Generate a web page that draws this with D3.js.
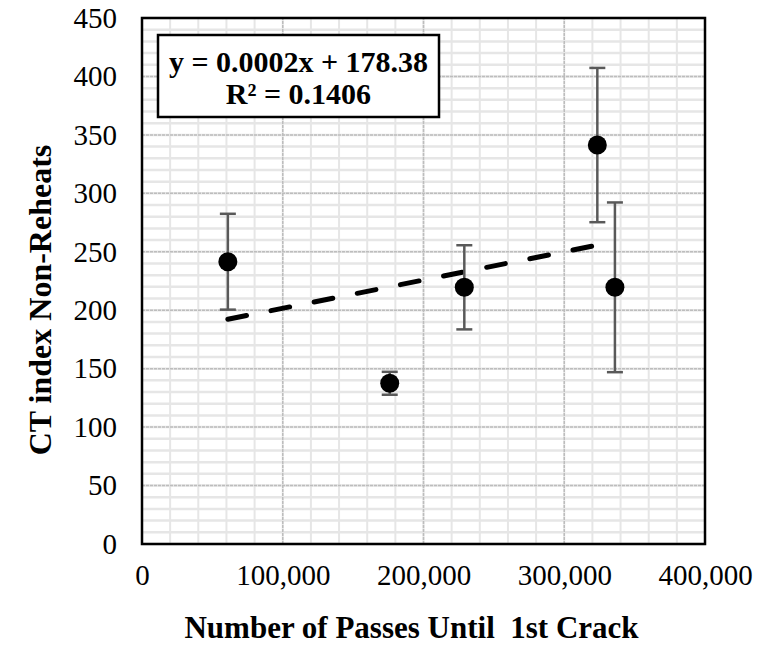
<!DOCTYPE html>
<html>

<head>
  <title>CT index vs passes</title>
  <script src="https://d3js.org/d3.v7.min.js"></script>

  <style type="text/css">
    body {
      margin: 0;
      background: #fff;
    }

    svg {
      font-family: "Liberation Serif", "Times New Roman", serif;
    }

    svg .tick text {
      fill: #000;
    }
  </style>
</head>

<body>
  <div id="chart"></div>

  <script type="text/javascript">
    // data
    var passes = [61000, 176000, 229000, 323500, 336000];
    var ctIndex = [241.5, 137.5, 219.6, 341.3, 219.6];
    var errBar = [41, 9.8, 36, 66, 72.6];

    var xTicks = [0, 100000, 200000, 300000, 400000];
    var yTicks = [0, 50, 100, 150, 200, 250, 300, 350, 400, 450];

    var xTitle = "Number of Passes Until  1st Crack";
    var yTitle = "CT index Non-Reheats";
    var eqLines = ["y = 0.0002x + 178.38", "R\u00B2 = 0.1406"];

    var width = 784, height = 646;
    var margin = { top: 18, right: 79, bottom: 102, left: 142 };

    var svg = d3.select("#chart")
      .append("svg")
      .attr("width", width)
      .attr("height", height);

    var x = d3.scaleLinear()
      .domain([0, 400000])
      .range([margin.left, width - margin.right]);

    var y = d3.scaleLinear()
      .domain([0, 450])
      .range([height - margin.bottom, margin.top]);

    var grid = svg.append("g");

    // minor grid
    grid.selectAll(".vminor")
      .data(d3.range(0, 400001, 20000))
      .enter().append("line")
      .attr("x1", function (d) { return x(d); })
      .attr("x2", function (d) { return x(d); })
      .attr("y1", y(0)).attr("y2", y(450))
      .style("stroke", "#e6e6e6")
      .style("stroke-width", 2);

    grid.selectAll(".hminor")
      .data(d3.range(0, 451, 10))
      .enter().append("line")
      .attr("y1", function (d) { return y(d); })
      .attr("y2", function (d) { return y(d); })
      .attr("x1", x(0)).attr("x2", x(400000))
      .style("stroke", "#e6e6e6")
      .style("stroke-width", 2.5);

    // major grid
    grid.selectAll(".vmajor")
      .data(xTicks)
      .enter().append("line")
      .attr("x1", function (d) { return x(d); })
      .attr("x2", function (d) { return x(d); })
      .attr("y1", y(0)).attr("y2", y(450))
      .style("stroke", "#bdbdbd")
      .style("stroke-width", 1.5)
      .style("stroke-dasharray", "3,1");

    grid.selectAll(".hmajor")
      .data(yTicks)
      .enter().append("line")
      .attr("y1", function (d) { return y(d); })
      .attr("y2", function (d) { return y(d); })
      .attr("x1", x(0)).attr("x2", x(400000))
      .style("stroke", "#bdbdbd")
      .style("stroke-width", 1.5)
      .style("stroke-dasharray", "3,1");

    // axes (labels only, frame drawn below)
    var xAxis = svg.append("g")
      .attr("transform", "translate(0," + y(0) + ")")
      .call(d3.axisBottom(x).tickValues(xTicks).tickSize(0).tickPadding(20)
        .tickFormat(function (d) { return d === 0 ? "0" : d3.format(",")(d); }));
    xAxis.select(".domain").remove();
    xAxis.selectAll("text")
      .style("font-family", "Liberation Serif")
      .style("font-size", "29px");

    var yAxis = svg.append("g")
      .attr("transform", "translate(" + x(0) + ",0)")
      .call(d3.axisLeft(y).tickValues(yTicks).tickSize(0).tickPadding(25));
    yAxis.select(".domain").remove();
    yAxis.selectAll("text")
      .style("font-family", "Liberation Serif")
      .style("font-size", "29px");

    // plot frame
    svg.append("rect")
      .attr("x", x(0))
      .attr("y", y(450))
      .attr("width", x(400000) - x(0))
      .attr("height", y(0) - y(450))
      .style("fill", "none")
      .style("stroke", "#000")
      .style("stroke-width", 2.5);

    // linear trendline (least squares)
    var n = passes.length;
    var mx = d3.mean(passes), my = d3.mean(ctIndex);
    var sxy = 0, sxx = 0;
    for (var i = 0; i < n; i++) {
      sxy += (passes[i] - mx) * (ctIndex[i] - my);
      sxx += (passes[i] - mx) * (passes[i] - mx);
    }
    var slope = sxy / sxx;
    var icpt = my - slope * mx;
    var x0 = d3.min(passes), x1 = d3.max(passes);

    svg.append("line")
      .attr("x1", x(x0)).attr("y1", y(icpt + slope * x0))
      .attr("x2", x(x1)).attr("y2", y(icpt + slope * x1))
      .style("stroke", "#000")
      .style("stroke-width", 5)
      .style("stroke-linecap", "round")
      .style("stroke-dasharray", "19,25");

    // error bars
    var pts = passes.map(function (p, i) { return { x: p, y: ctIndex[i], e: errBar[i] }; });

    var eb = svg.selectAll(".err")
      .data(pts)
      .enter().append("g")
      .style("stroke", "#595959")
      .style("stroke-width", 2.5);

    eb.append("line")
      .attr("x1", function (d) { return x(d.x); })
      .attr("x2", function (d) { return x(d.x); })
      .attr("y1", function (d) { return y(d.y - d.e); })
      .attr("y2", function (d) { return y(d.y + d.e); });
    eb.append("line")
      .attr("x1", function (d) { return x(d.x) - 8; })
      .attr("x2", function (d) { return x(d.x) + 8; })
      .attr("y1", function (d) { return y(d.y + d.e); })
      .attr("y2", function (d) { return y(d.y + d.e); });
    eb.append("line")
      .attr("x1", function (d) { return x(d.x) - 8; })
      .attr("x2", function (d) { return x(d.x) + 8; })
      .attr("y1", function (d) { return y(d.y - d.e); })
      .attr("y2", function (d) { return y(d.y - d.e); });

    // markers
    svg.selectAll(".dot")
      .data(pts)
      .enter().append("circle")
      .attr("cx", function (d) { return x(d.x); })
      .attr("cy", function (d) { return y(d.y); })
      .attr("r", 9.5)
      .style("fill", "#000");

    // equation box
    svg.append("rect")
      .attr("x", 158).attr("y", 35)
      .attr("width", 281).attr("height", 82)
      .style("fill", "#fff")
      .style("stroke", "#000")
      .style("stroke-width", 2.5);

    svg.selectAll(".eq")
      .data(eqLines)
      .enter().append("text")
      .attr("x", 298.5)
      .attr("y", function (d, i) { return 72 + i * 32; })
      .attr("text-anchor", "middle")
      .style("font-size", "30px")
      .style("font-weight", "bold")
      .text(function (d) { return d; });

    // axis titles
    svg.append("text")
      .attr("x", (x(0) + x(400000)) / 2 - 12)
      .attr("y", 638)
      .attr("text-anchor", "middle")
      .style("font-size", "31px")
      .style("font-weight", "bold")
      .style("white-space", "pre")
      .text(xTitle);

    svg.append("text")
      .attr("transform", "translate(51," + 300 + ") rotate(-90)")
      .attr("text-anchor", "middle")
      .style("font-size", "32px")
      .style("font-weight", "bold")
      .text(yTitle);
  </script>
</body>

</html>
